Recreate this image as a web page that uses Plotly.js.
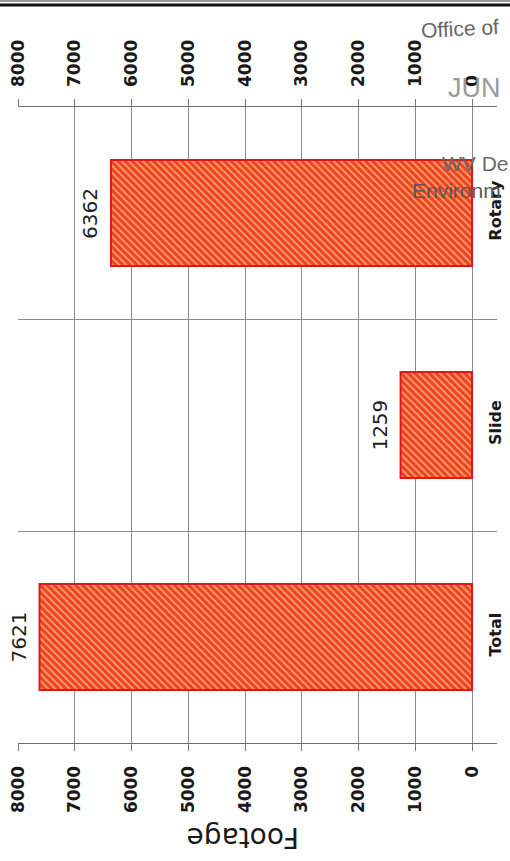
<!DOCTYPE html>
<html>
<head>
<meta charset="utf-8">
<script src="https://cdn.plot.ly/plotly-3.0.1.min.js"></script>
<style>
  html, body { margin: 0; padding: 0; background: #ffffff; }
  #chart { width: 510px; height: 861px; }
</style>
</head>
<body>
<div id="chart"></div>
<script>
// ---- data ----
const categories = ['Total', 'Slide', 'Rotary'];
const footage = [7621, 1259, 6362];
const valueTicks = [0, 1000, 2000, 3000, 4000, 5000, 6000, 7000, 8000];
const valueTickLabels = ['0', '1000', '2000', '3000', '4000', '5000', '6000', '7000', '8000'];
const axisTitle = 'Footage';
const stampTexts = ['Office of', 'JUN', 'WV De', 'Environm'];

// ---- layout constants (px) ----
const W = 510, H = 861;
const L = 18, R = 13, T = 107, B = 118;
const pw = W - L - R, ph = H - T - B;
const px2x = p => (p - L) / pw;
const py2y = p => (H - B - p) / ph;

const tickFont = { family: 'DejaVu Sans', size: 17, color: '#1a1a1a', weight: 'bold' };

const bars = {
  type: 'bar',
  orientation: 'h',
  x: footage,
  y: categories,
  width: 0.5,
  marker: {
    color: '#ee4322',
    line: { color: '#e3161a', width: 2 },
    pattern: { shape: '\\', bgcolor: '#ee4322', fgcolor: '#f8a06c', size: 5, solidity: 0.35, fillmode: 'replace' }
  },
  hoverinfo: 'skip',
  showlegend: false
};

// carrier trace so the top (mirrored) value axis gets its labels; draws nothing
const topAxisCarrier = {
  type: 'scatter', mode: 'none',
  x: footage, y: categories,
  xaxis: 'x2', yaxis: 'y',
  hoverinfo: 'skip', showlegend: false
};

const valueAnnotations = footage.map((v, i) => ({
  x: v, y: categories[i], xref: 'x', yref: 'y',
  text: String(v), showarrow: false, textangle: -90,
  xanchor: 'center', yanchor: 'middle', xshift: -21,
  font: { family: 'DejaVu Sans', size: 20, color: '#222222' }
}));

const stampAnnotations = [
  { x: px2x(460), y: py2y(29), text: stampTexts[0], textangle: -3, xanchor: 'center', yanchor: 'middle',
    font: { family: 'Liberation Sans', size: 21, color: '#666666' } },
  { x: px2x(474), y: py2y(88), text: stampTexts[1], xanchor: 'center', yanchor: 'middle',
    font: { family: 'Liberation Sans', size: 27, color: '#9a9a9a' } },
  { x: px2x(440), y: py2y(163), text: stampTexts[2], xanchor: 'left', yanchor: 'middle',
    font: { family: 'Liberation Sans', size: 21, color: '#6a6a6a' } },
  { x: px2x(410), y: py2y(190), text: stampTexts[3], xanchor: 'left', yanchor: 'middle',
    font: { family: 'Liberation Sans', size: 21, color: '#5a5a5a' } }
].map(a => Object.assign({ xref: 'paper', yref: 'paper', showarrow: false }, a));

const titleAnnotation = {
  xref: 'paper', yref: 'paper', x: px2x(243), y: py2y(838),
  text: axisTitle, showarrow: false, textangle: 180,
  xanchor: 'center', yanchor: 'middle',
  font: { family: 'DejaVu Sans', size: 28, color: '#1a1a1a' }
};

const xRange = [8000, -440];

const layout = {
  width: W, height: H,
  margin: { l: L, r: R, t: T, b: B, pad: 0 },
  paper_bgcolor: '#ffffff',
  plot_bgcolor: '#ffffff',
  showlegend: false,
  xaxis: {
    range: xRange,
    tickvals: valueTicks, ticktext: valueTickLabels,
    tickangle: -90,
    tickfont: tickFont,
    showgrid: true, gridcolor: '#8c8c8c', gridwidth: 1,
    zeroline: false,
    showline: true, linecolor: '#6f6f6f', linewidth: 1, mirror: 'ticks',
    ticks: 'outside', ticklen: 7, tickcolor: '#7a7a7a', tickwidth: 1,
    ticklabelstandoff: 8,
    fixedrange: true
  },
  xaxis2: {
    range: xRange,
    overlaying: 'x', side: 'top', anchor: 'y',
    tickvals: valueTicks, ticktext: valueTickLabels,
    tickangle: -90,
    tickfont: tickFont,
    showgrid: false, zeroline: false, showline: false,
    ticks: '',
    ticklabelstandoff: 19,
    fixedrange: true
  },
  yaxis: {
    type: 'category',
    categoryorder: 'array', categoryarray: categories,
    range: [-0.5, 2.5],
    side: 'right',
    tickson: 'boundaries',
    ticks: '',
    showgrid: true, gridcolor: '#8c8c8c', gridwidth: 1,
    showline: false, zeroline: false,
    tickangle: -90,
    tickfont: { family: 'DejaVu Sans', size: 16, color: '#1a1a1a', weight: 'bold' },
    ticklabelstandoff: -13,
    fixedrange: true
  },
  shapes: [
    { type: 'line', xref: 'paper', yref: 'paper', x0: px2x(0), x1: px2x(W), y0: py2y(1), y1: py2y(1),
      line: { color: '#333333', width: 1 } },
    { type: 'line', xref: 'paper', yref: 'paper', x0: px2x(0), x1: px2x(W), y0: py2y(5), y1: py2y(5),
      line: { color: '#111111', width: 3 } }
  ],
  annotations: valueAnnotations.concat(stampAnnotations, [titleAnnotation])
};

Plotly.newPlot('chart', [bars, topAxisCarrier], layout, { displayModeBar: false, staticPlot: true });
</script>
</body>
</html>
